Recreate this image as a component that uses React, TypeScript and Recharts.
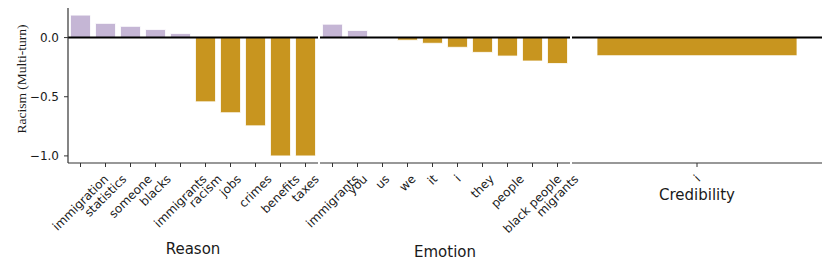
import React from "react";
import { BarChart, Bar, Cell, XAxis, YAxis, ReferenceLine } from "recharts";

// values
const reasonWords = ["immigration", "statistics", "someone", "blacks", "immigrants", "racism", "jobs", "crimes", "benefits", "taxes"];
const reasonScores = [0.19, 0.12, 0.095, 0.068, 0.034, -0.543, -0.635, -0.746, -1.0, -1.0];

const emotionWords = ["immigrants", "you", "us", "we", "it", "i", "they", "people", "black people", "migrants"];
const emotionScores = [0.113, 0.06, 0.0, -0.022, -0.048, -0.082, -0.125, -0.156, -0.198, -0.219];

const credibilityWords = ["i"];
const credibilityScores = [-0.153];

const yTicks = [0, -0.5, -1.0];
const yDomain: [number, number] = [-1.06, 0.25];

const POS = "#c5b6d5";
const NEG = "#c8951f";
const SPINE = "#333333";
const TEXT = "#1a1a1a";
const SANS = '"DejaVu Sans", sans-serif';

const ctx = typeof document !== "undefined" ? document.createElement("canvas").getContext("2d") : null;
function textWidth(s: string, size: number) {
  if (!ctx) return s.length * size * 0.6;
  ctx.font = `${size}px "DejaVu Sans"`;
  return ctx.measureText(s).width;
}

// matplotlib-style rotated tick: label bbox centred on the tick, top just under it
function SlantTick(props: any) {
  const { x, y, payload } = props;
  const label = String(payload.value);
  const w = textWidth(label, 12);
  const half = ((w + 14) * Math.SQRT1_2) / 2;
  const cy = y + 5 + half;
  return (
    <text
      x={x}
      y={cy}
      transform={`rotate(-45 ${x} ${cy})`}
      textAnchor="middle"
      dominantBaseline="central"
      fontSize={12}
      fontFamily={SANS}
      fill={TEXT}
    >
      {label}
    </text>
  );
}

const fmt = (v: number) => v.toFixed(1).replace("-", "\u2212");

interface PanelProps {
  words: string[];
  scores: number[];
  title: string;
  titleY: number;
  left: number;
  width: number;
  marginLeft: number;
  marginRight: number;
  first?: boolean;
}

function Panel({ words, scores, title, titleY, left, width, marginLeft, marginRight, first }: PanelProps) {
  const data = words.map((w, i) => ({ word: w, score: scores[i] }));
  return (
    <div style={{ position: "absolute", left, top: 0 }}>
      <BarChart
        width={width}
        height={269}
        data={data}
        margin={{ top: 8, right: marginRight, bottom: 0, left: marginLeft }}
        barCategoryGap="10%"
      >
        <XAxis
          dataKey="word"
          interval={0}
          height={106}
          tickSize={4}
          tickMargin={0}
          tick={<SlantTick />}
          tickLine={{ stroke: SPINE, strokeWidth: 1 }}
          axisLine={{ stroke: SPINE, strokeWidth: 1.2 }}
          label={(p: any) => {
            const vb = p.viewBox || {};
            return (
              <text
                x={vb.x + vb.width / 2}
                y={titleY}
                textAnchor="middle"
                fontSize={15}
                fontFamily={SANS}
                fill={TEXT}
              >
                {title}
              </text>
            );
          }}
        />
        {first ? (
          <YAxis
            width={68}
            domain={yDomain}
            ticks={yTicks}
            tickFormatter={fmt}
            tickSize={4}
            tickMargin={5}
            tick={{ fontSize: 12, fontFamily: SANS, fill: TEXT }}
            tickLine={{ stroke: SPINE, strokeWidth: 1 }}
            axisLine={{ stroke: SPINE, strokeWidth: 1.2 }}
            label={() => (
              <text
                x={21}
                y={79}
                transform="rotate(-90 21 79)"
                textAnchor="middle"
                dominantBaseline="central"
                fontSize={13.5}
                fontFamily='"Liberation Serif", serif'
                fill={TEXT}
              >
                Racism (Multi-turn)
              </text>
            )}
          />
        ) : (
          <YAxis
            width={0}
            domain={yDomain}
            ticks={yTicks}
            tick={false}
            tickLine={false}
            axisLine={{ stroke: SPINE, strokeWidth: 1.2 }}
          />
        )}
        <Bar dataKey="score" isAnimationActive={false} stroke="#ffffff" strokeWidth={0.8}>
          {data.map((d) => (
            <Cell key={d.word} fill={d.score >= 0 ? POS : NEG} />
          ))}
        </Bar>
        <ReferenceLine y={0} stroke="#000000" strokeWidth={2} />
      </BarChart>
    </div>
  );
}

export default function App() {
  return (
    <div
      style={{
        position: "absolute",
        left: 0,
        top: 0,
        width: 831,
        height: 269,
        overflow: "hidden",
        background: "#ffffff",
      }}
    >
      <Panel words={reasonWords} scores={reasonScores} title="Reason" titleY={254} left={0} width={338} marginLeft={0} marginRight={20} first />
      <Panel words={emotionWords} scores={emotionScores} title="Emotion" titleY={257} left={300} width={290} marginLeft={20} marginRight={20} />
      <Panel words={credibilityWords} scores={credibilityScores} title="Credibility" titleY={200} left={552} width={279} marginLeft={20} marginRight={9} />
    </div>
  );
}
